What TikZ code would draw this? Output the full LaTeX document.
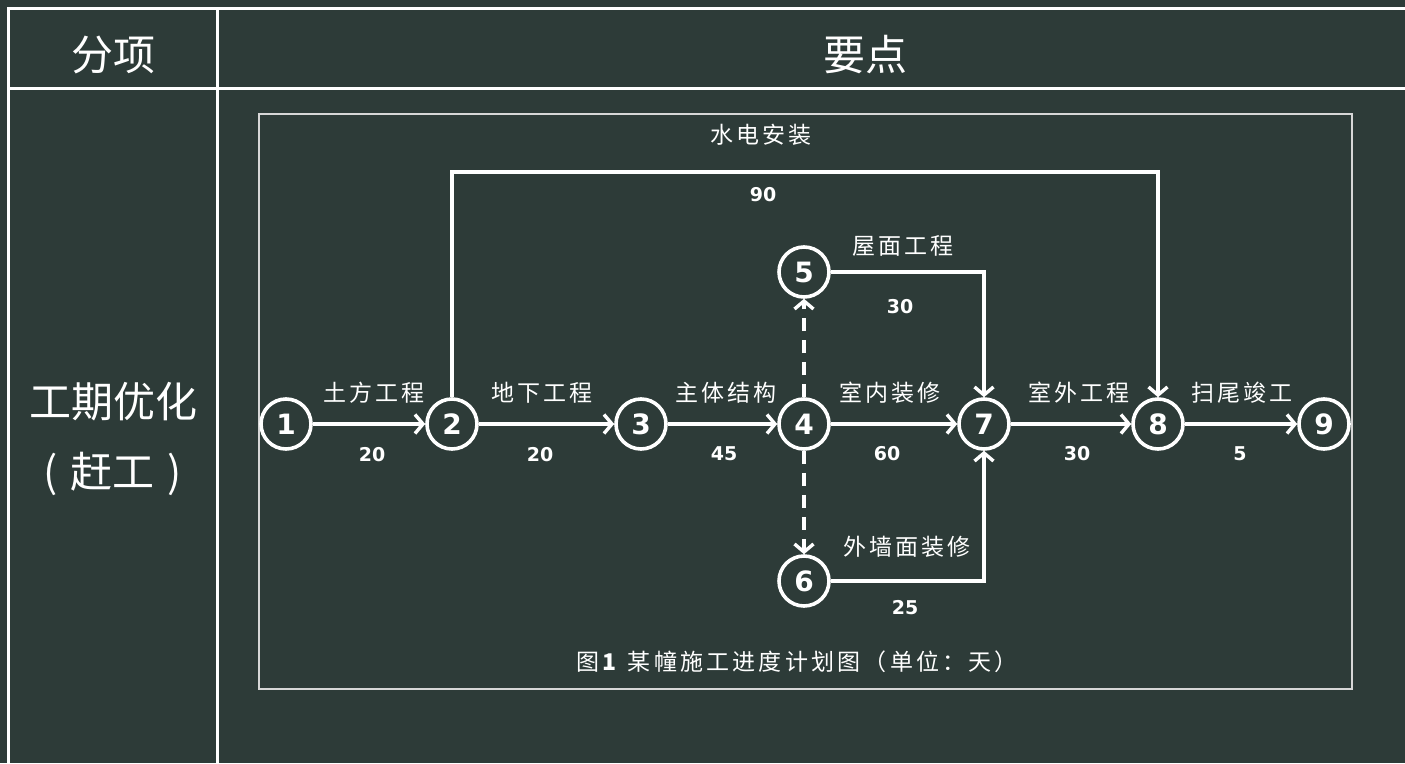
\documentclass[tikz,border=0pt]{standalone}
\usepackage{fontspec}
\setmainfont{DejaVu Sans}
\newfontfamily\cjk{Noto Sans CJK SC}
\newfontfamily\cjkls[LetterSpace=14]{Noto Sans CJK SC}
\usetikzlibrary{arrows.meta}
\definecolor{bgc}{RGB}{45,59,56}
\definecolor{framec}{RGB}{215,215,215}
\begin{document}
\begin{tikzpicture}[x=1pt,y=-1pt,
  tbl/.style={white,line width=3pt},
  ev/.style={circle,draw=white,line width=3.6pt,minimum size=50pt,inner sep=0pt,text=white,font=\bfseries\fontsize{28}{28}\selectfont},
  act/.style={white,line width=3.4pt,-{Straight Barb[length=8pt,width=19pt]}},
  dum/.style={act,dash pattern=on 13pt off 9pt},
  lab/.style={text=white,inner sep=0pt,font=\cjkls\fontsize{23}{23}\selectfont},
  dur/.style={text=white,inner sep=0pt,font=\bfseries\fontsize{19}{19}\selectfont},
  head/.style={text=white,inner sep=0pt,font=\cjk\fontsize{42}{42}\selectfont}]
\useasboundingbox (0,0) rectangle (1405,763);
\fill[bgc] (0,0) rectangle (1405,763);
% table
\draw[tbl] (7.2,8.7) -- (1405,8.7);
\draw[tbl] (7.2,88.7) -- (1405,88.7);
\draw[tbl] (8.7,7.2) -- (8.7,763);
\draw[tbl] (217.3,7.2) -- (217.3,763);
\node[head] (h1) at (113,55) {分项};
\node[head] (h2) at (865,55) {要点};
\node[head] (c1) at (113,402) {工期优化};
\node[head] (c2) at (113,474) {(\hspace{13pt}赶工\hspace{13pt})};
% frame
\draw[framec,line width=1.5pt] (259,114) rectangle (1352,689);
% events
\node[ev] (n1) at (286,424) {1};
\node[ev] (n2) at (452,424) {2};
\node[ev] (n3) at (641,424) {3};
\node[ev] (n4) at (804,424) {4};
\node[ev] (n5) at (804,272) {5};
\node[ev] (n6) at (804,581) {6};
\node[ev] (n7) at (984,424) {7};
\node[ev] (n8) at (1158,424) {8};
\node[ev] (n9) at (1324,424) {9};
\coordinate (top) at (0,172);
% activities
\draw[act] (n1) -- (n2);
\draw[act] (n2) -- (n3);
\draw[act] (n3) -- (n4);
\draw[act] (n4) -- (n7);
\draw[act] (n7) -- (n8);
\draw[act] (n8) -- (n9);
\draw[act] (n2.north) -- (n2.north |- top) -| (n8.north);
\draw[act] (n5.east) -| (n7.north);
\draw[act] (n6.east) -| (n7.south);
\draw[dum] (n4.north) -- (n5.south);
\draw[dum] (n4.south) -- (n6.north);
% labels
\node[lab] (l12) at (374,393) {土方工程};
\node[dur] (d12) at (372,455) {20};
\node[lab] (l23) at (542,393) {地下工程};
\node[dur] (d23) at (540,455) {20};
\node[lab] (l34) at (726,393) {主体结构};
\node[dur] (d34) at (724,454) {45};
\node[lab] (l47) at (890,393) {室内装修};
\node[dur] (d47) at (887,454) {60};
\node[lab] (l57) at (903,246) {屋面工程};
\node[dur] (d57) at (900,307) {30};
\node[lab] (l67) at (907,547) {外墙面装修};
\node[dur] (d67) at (905,608) {25};
\node[lab] (l78) at (1079,393) {室外工程};
\node[dur] (d78) at (1077,454) {30};
\node[lab] (l89) at (1242,393) {扫尾竣工};
\node[dur] (d89) at (1240,454) {5};
\node[lab] (l28) at (761,135) {水电安装};
\node[dur] (d28) at (763,195) {90};
\node[lab] (cap) at (797,662) {图\textbf{1} 某幢施工进度计划图（单位：天）};
\end{tikzpicture}
\end{document}
